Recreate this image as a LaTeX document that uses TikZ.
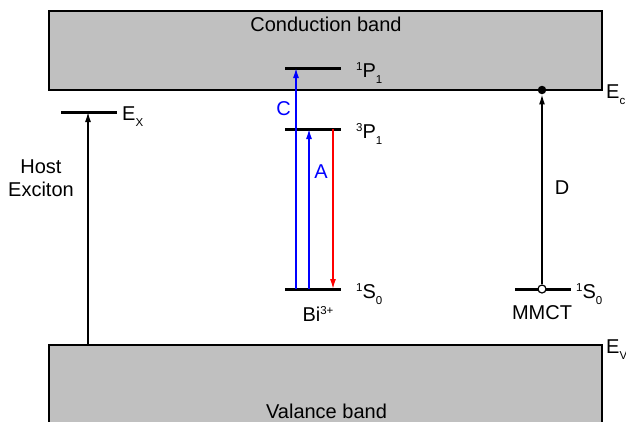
\documentclass[tikz,border=0pt]{standalone}
\usepackage{fontspec}
\setmainfont{Liberation Sans}
\usetikzlibrary{arrows.meta}
\newcommand\mysup[1]{\raisebox{6.2pt}{\fontsize{11.5}{11.5}\selectfont #1}}
\newcommand\mysub[1]{\raisebox{-6pt}{\fontsize{11.5}{11.5}\selectfont #1}}
\definecolor{bandgray}{HTML}{C0C0C0}
\tikzset{
  band/.style={draw=black,line width=2pt,fill=bandgray},
  level/.style={line width=3pt},
  trans/.style={line width=1.4pt,-{Latex[length=10pt,width=6pt]}},
  lbl/.style={inner sep=0pt,font=\fontsize{20}{23}\selectfont},
}
\begin{document}
\begin{tikzpicture}[x=1pt,y=-1pt]
\useasboundingbox (0,0) rectangle (626,421);
\clip (0,0) rectangle (626,421);
% bands
\draw[band] (49,11) rectangle (602,90);
\draw[band] (49,345) rectangle (602,440);
\node[lbl,anchor=base] (cb) at (326,31) {Conduction band};
\node[lbl,anchor=base] (vb) at (326.5,418) {Valance band};
% band edge labels
\coordinate (ecpt) at (542,90);
\node[lbl,anchor=base west] (ec) at (606,98) {E\mysub{c}};
\node[lbl,anchor=base west] (ev) at (606,353) {E\mysub{V}};
% host exciton
\coordinate (exl) at (61,112);
\coordinate (exr) at (117,112);
\coordinate (exa) at (88,112);
\coordinate (vbh) at (88,345);
\draw[level] (exl) -- (exr);
\draw[trans] (vbh) -- (exa);
\node[lbl,anchor=base west] (exlab) at (122,120) {E\mysub{X}};
\node[lbl,align=center,anchor=base] (host) at (41,196) {Host\\Exciton};
% Bi levels
\coordinate (p1l) at (285,68);  \coordinate (p1r) at (341,68);
\coordinate (p3l) at (285,129); \coordinate (p3r) at (341,129);
\coordinate (s0l) at (285,289); \coordinate (s0r) at (341,289);
\draw[level] (p1l) -- (p1r);
\draw[level] (p3l) -- (p3r);
\draw[level] (s0l) -- (s0r);
\node[lbl,anchor=base west] (p1lab) at (356,77) {\mysup{1}P\mysub{1}};
\node[lbl,anchor=base west] (p3lab) at (356,138) {\mysup{3}P\mysub{1}};
\node[lbl,anchor=base west] (s0lab) at (356,298) {\mysup{1}S\mysub{0}};
\node[lbl,anchor=base] (bi) at (318,321) {Bi\mysup{3+}};
% transitions
\coordinate (cb0) at (296,289); \coordinate (cb1) at (296,68);
\coordinate (ab0) at (309,289); \coordinate (ab1) at (309,129);
\coordinate (rb0) at (333,129); \coordinate (rb1) at (333,289);
\draw[trans,blue] (cb0) -- (cb1);
\draw[trans,blue] (ab0) -- (ab1);
\draw[trans,red] (rb0) -- (rb1);
\node[lbl,blue] (clab) at (283.5,108.5) {C};
\node[lbl,blue] (alab) at (321,172) {A};
% MMCT
\coordinate (ml) at (515,289); \coordinate (mr) at (571,289);
\draw[level] (ml) -- (mr);
\node[circle,draw=black,line width=1.2pt,fill=white,inner sep=0pt,minimum size=8pt] (mc) at (542,289) {};
\node[circle,fill=black,inner sep=0pt,minimum size=8.5pt] (dot) at (ecpt) {};
\draw[trans] (mc) -- (dot);
\node[lbl] (dlab) at (562,188) {D};
\node[lbl,anchor=base west] (ms0) at (576,298) {\mysup{1}S\mysub{0}};
\node[lbl,anchor=base] (mmct) at (542,319) {MMCT};
\end{tikzpicture}
\end{document}
